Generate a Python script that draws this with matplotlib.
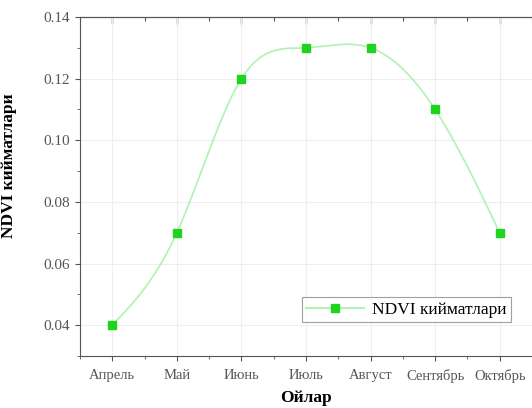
import numpy as np
import matplotlib
matplotlib.use("Agg")
import matplotlib.pyplot as plt
from matplotlib.ticker import MultipleLocator, AutoMinorLocator, FormatStrFormatter

months = ["Апрель", "Май", "Июнь", "Июль", "Август", "Сентябрь", "Октябрь"]
ndvi = [0.04, 0.07, 0.12, 0.13, 0.13, 0.11, 0.07]


def natural_spline(x, y, xs):
    # natural cubic spline, enough for a smooth Origin-like curve
    x = np.asarray(x, float)
    y = np.asarray(y, float)
    n = len(x)
    h = np.diff(x)
    A = np.zeros((n, n))
    r = np.zeros(n)
    A[0, 0] = 1
    A[-1, -1] = 1
    for i in range(1, n - 1):
        A[i, i - 1] = h[i - 1]
        A[i, i] = 2 * (h[i - 1] + h[i])
        A[i, i + 1] = h[i]
        r[i] = 3 * ((y[i + 1] - y[i]) / h[i] - (y[i] - y[i - 1]) / h[i - 1])
    c = np.linalg.solve(A, r)
    out = np.empty_like(xs)
    for k, t in enumerate(xs):
        i = min(max(np.searchsorted(x, t) - 1, 0), n - 2)
        b = (y[i + 1] - y[i]) / h[i] - h[i] * (2 * c[i] + c[i + 1]) / 3
        d = (c[i + 1] - c[i]) / (3 * h[i])
        dt = t - x[i]
        out[k] = y[i] + b * dt + c[i] * dt ** 2 + d * dt ** 3
    return out


plt.rcParams['font.family'] = ['Liberation Serif', 'DejaVu Serif']

fig = plt.figure(figsize=(5.32, 4.08), dpi=100)
ax = fig.add_axes([80 / 532, 1 - 356 / 408, 452 / 532, 339 / 408])

xi = np.arange(len(months))
xs = np.linspace(0, len(months) - 1, 300)
ax.plot(xs, natural_spline(xi, ndvi, xs), color="#b0f2b0", lw=1.2, zorder=2)
ax.plot(xi, ndvi, ls="none", marker="s", ms=6, color="#1ed41e", zorder=3)
ax.plot([], [], color="#b0f2b0", marker="s", ms=6, mfc="#1ed41e", mec="#1ed41e",
        label="NDVI кийматлари")

ax.set_xlim(-0.5, len(months) - 0.5)
ax.set_ylim(0.03, 0.14)
ax.set_xticks(xi)
ax.set_xticklabels(months, fontsize=10.5, color="#555555")
ax.xaxis.set_minor_locator(AutoMinorLocator(2))
ax.yaxis.set_major_locator(MultipleLocator(0.02))
ax.yaxis.set_minor_locator(AutoMinorLocator(2))
ax.yaxis.set_major_formatter(FormatStrFormatter("%.2f"))
ax.tick_params(axis="y", labelsize=11, labelcolor="#555555")
ax.tick_params(axis="x", pad=6)
ax.tick_params(which="both", direction="out", color="#555555")

# top axis: ticks pointing inwards, no labels
top = ax.secondary_xaxis("top")
top.set_xticks(xi)
top.xaxis.set_minor_locator(AutoMinorLocator(2))
top.tick_params(which="major", direction="in", length=5, width=1, labeltop=False, color="#555555")
top.tick_params(which="minor", direction="in", length=3, width=0.8, color="#555555")
top.spines["top"].set_color("#555555")

ax.grid(True, color="#eeeeee", lw=0.8, zorder=0)
for s in ax.spines.values():
    s.set_color("#555555")
ax.spines["right"].set_visible(False)

ax.set_xlabel("Ойлар", fontsize=12.5, fontweight="bold", labelpad=5)
ax.set_ylabel("NDVI кийматлари", fontsize=12.5, fontweight="bold")
ax.yaxis.set_label_coords(-0.139, 0.56)

leg = ax.legend(loc="lower right", bbox_to_anchor=(0.954, 0.10), fontsize=12.5,
                frameon=True, fancybox=False, edgecolor="#888888",
                handlelength=3.3, borderpad=0.25, handletextpad=0.5,
                borderaxespad=0)
leg.get_frame().set_linewidth(0.8)

fig.savefig("out.png", dpi=100)
